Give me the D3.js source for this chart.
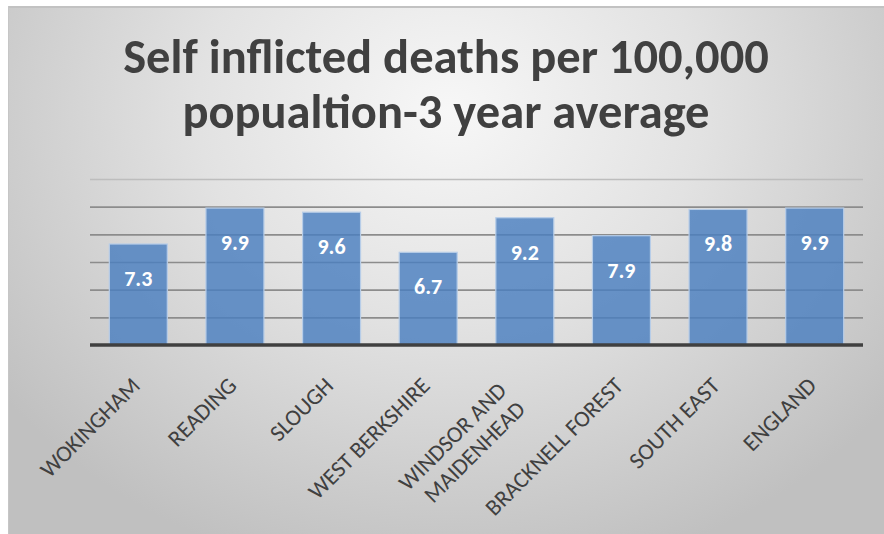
<!DOCTYPE html>
<html>
<head>
<meta charset="utf-8">
<script src="https://cdn.jsdelivr.net/npm/d3@7"></script>
<style>
  html, body { margin: 0; padding: 0; background: #ffffff; }
  svg { display: block; }
</style>
</head>
<body>
<div id="chart"></div>
<script>
// ---- data ----
const categories = ["WOKINGHAM", "READING", "SLOUGH", "WEST BERKSHIRE", "WINDSOR AND MAIDENHEAD", "BRACKNELL FOREST", "SOUTH EAST", "ENGLAND"];
const categoryLines = [["WOKINGHAM"], ["READING"], ["SLOUGH"], ["WEST BERKSHIRE"], ["WINDSOR AND", "MAIDENHEAD"], ["BRACKNELL FOREST"], ["SOUTH EAST"], ["ENGLAND"]];
const values = [7.3, 9.9, 9.6, 6.7, 9.2, 7.9, 9.8, 9.9];
const gridTicks = [0, 2, 4, 6, 8, 10, 12];
const titleLines = ["Self inflicted deaths per 100,000", "popualtion-3 year average"];

const W = 884, H = 534;
const FONT = "Calibri, Carlito, Lato, 'Open Sans', sans-serif";
const svg = d3.select("#chart").append("svg").attr("width", W).attr("height", H);
const defs = svg.append("defs");

const bg = defs.append("radialGradient").attr("id", "bg")
  .attr("gradientUnits", "userSpaceOnUse")
  .attr("cx", 450).attr("cy", 110).attr("r", 560)
  .attr("gradientTransform", "translate(450,110) scale(1,0.85) translate(-450,-110)");
bg.append("stop").attr("offset", "0%").attr("stop-color", "#f7f7f7");
bg.append("stop").attr("offset", "45%").attr("stop-color", "#e2e2e2");
bg.append("stop").attr("offset", "100%").attr("stop-color", "#c0c0c0");

svg.append("rect").attr("x", 8).attr("y", 6).attr("width", W - 8).attr("height", H - 6).attr("fill", "url(#bg)");
svg.append("line").attr("x1", 8).attr("x2", W).attr("y1", 7).attr("y2", 7).attr("stroke", "#c2c2c2").attr("stroke-width", 2);
svg.append("line").attr("x1", 8.5).attr("x2", 8.5).attr("y1", 6).attr("y2", H).attr("stroke", "#c6c6c6").attr("stroke-width", 1);

// title
const title = svg.append("text").attr("text-anchor", "middle")
  .attr("font-family", FONT)
  .attr("font-weight", 700).attr("font-size", 48.5).attr("fill", "#404040");
titleLines.forEach((t, i) => {
  title.append("tspan").attr("x", 446).attr("y", 73 + i * 55).text(t);
});

// scales
const margin = { left: 90, right: 21, top: 179, bottom: 189 };
const x = d3.scaleBand().domain(categories).range([margin.left, W - margin.right]).paddingInner(0.4).paddingOuter(0.2);
const y = d3.scaleLinear().domain([0, 12]).range([H - margin.bottom, margin.top]);

// gridlines
const grid = svg.append("g")
  .attr("transform", `translate(${margin.left},0)`)
  .call(d3.axisLeft(y).tickValues(gridTicks.slice(1)).tickSize(-(W - margin.left - margin.right)).tickFormat(""));
grid.select(".domain").remove();
grid.selectAll(".tick line").attr("stroke", (d) => d === 12 ? "#bdbdbd" : "#8c8c8c").attr("stroke-width", 1.6);

// bars
svg.append("g").selectAll("rect").data(values).join("rect")
  .attr("x", (d, i) => x(categories[i]))
  .attr("y", d => y(d))
  .attr("width", x.bandwidth())
  .attr("height", d => y(0) - y(d))
  .attr("fill", "#4a7fc0").attr("fill-opacity", 0.82)
  .attr("stroke", "#b7cde8").attr("stroke-width", 1.2);

// baseline axis
const xAxis = svg.append("g").attr("transform", `translate(0,${y(0)})`)
  .call(d3.axisBottom(x).tickSize(0).tickFormat(""));
xAxis.select(".domain").attr("stroke", "#404040").attr("stroke-width", 3.5)
  .attr("d", `M${margin.left},0H${W - margin.right}`);

// value labels
svg.append("g").selectAll("text").data(values).join("text")
  .attr("x", (d, i) => x(categories[i]) + x.bandwidth() / 2)
  .attr("y", d => y(d) + 42)
  .attr("text-anchor", "middle")
  .attr("font-family", FONT)
  .attr("font-weight", 700).attr("font-size", 22).attr("fill", "#ffffff")
  .text(d => d.toFixed(1));

// category labels
const lab = svg.append("g").selectAll("text").data(categories).join("text")
  .attr("transform", (d, i) => {
    const cx = x(d) + x.bandwidth() / 2;
    const n = categoryLines[i].length;
    const dx = n > 1 ? -20 : 0, dy = n > 1 ? 5 : 0;
    return `translate(${cx + 3 + dx},${387 + dy}) rotate(-45)`;
  })
  .attr("text-anchor", "end")
  .attr("font-family", FONT)
  .attr("font-size", 23).attr("fill", "#404040");
lab.each(function(d, i) {
  const t = d3.select(this);
  categoryLines[i].forEach((line, j) => {
    t.append("tspan").attr("x", 0).attr("dy", j === 0 ? 0 : "1.15em").text(line);
  });
});
</script>
</body>
</html>
